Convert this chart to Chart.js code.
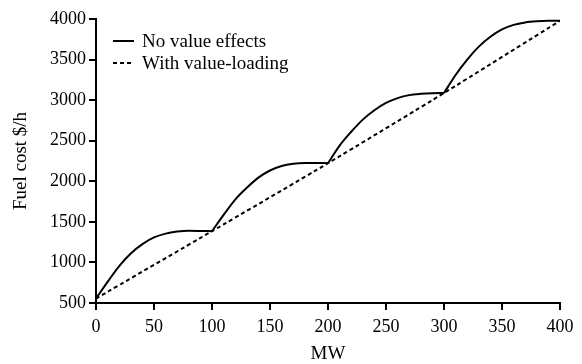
<!DOCTYPE html>
<html>
<head>
<meta charset="utf-8">
<script src="https://cdn.jsdelivr.net/npm/chart.js@4"></script>
<style>
  html, body { margin: 0; padding: 0; background: #fff; }
  #wrap { width: 582px; height: 364px; }
</style>
</head>
<body>
<div id="wrap"><canvas id="chart" width="582" height="364"></canvas></div>
<script>
// MW output, one row per valve segment
const mw = [
  [0, 10, 20, 30, 40, 50, 60, 70, 80, 90, 100],
  [100, 110, 120, 130, 140, 150, 160, 170, 180, 190, 200],
  [200, 210, 220, 230, 240, 250, 260, 270, 280, 290, 300],
  [300, 310, 320, 330, 340, 350, 360, 370, 380, 390, 400]
];

// fuel cost with valve-point effects ($/h)
const noValveCost = [
  [555, 760, 955, 1110, 1225, 1308, 1355, 1380, 1390, 1388, 1385],
  [1385, 1585, 1775, 1920, 2045, 2133, 2188, 2215, 2225, 2226, 2223],
  [2223, 2440, 2610, 2760, 2875, 2965, 3025, 3062, 3078, 3086, 3088],
  [3088, 3310, 3500, 3660, 3782, 3872, 3928, 3958, 3972, 3978, 3978]
];

// valve-point loading line (junction points)
const valveMw = [0, 100, 200, 300, 400];
const valveCost = [555, 1385, 2223, 3088, 3978];

const xTicks = [0, 50, 100, 150, 200, 250, 300, 350, 400];
const yTicks = [500, 1000, 1500, 2000, 2500, 3000, 3500, 4000];

const serif = '"Liberation Serif", "Times New Roman", serif';

// segments are joined with a gap point so each valve arc keeps its sharp cusp
function segmentPairs(xRows, yRows) {
  const out = [];
  xRows.forEach((xs, r) => {
    if (r > 0) out.push({ x: xs[0], y: null });
    xs.forEach((x, i) => out.push({ x: x, y: yRows[r][i] }));
  });
  return out;
}

function pairs(xs, ys) {
  return xs.map((x, i) => ({ x: x, y: ys[i] }));
}

// legend drawn inside the plot, top-left
const innerLegend = {
  id: 'innerLegend',
  afterDraw(chart) {
    const ctx = chart.ctx;
    const area = chart.chartArea;
    ctx.save();
    ctx.font = '19px ' + serif;
    ctx.fillStyle = '#000';
    ctx.textBaseline = 'middle';
    chart.data.datasets.forEach((ds, i) => {
      const y = area.top + 22 + i * 22;
      const x0 = area.left + 17;
      ctx.beginPath();
      ctx.strokeStyle = ds.borderColor;
      ctx.lineWidth = ds.borderWidth;
      ctx.setLineDash(ds.borderDash || []);
      ctx.moveTo(x0, y);
      ctx.lineTo(x0 + 21, y);
      ctx.stroke();
      ctx.setLineDash([]);
      ctx.fillText(ds.label, x0 + 29, y + 1);
    });
    ctx.restore();
  }
};

new Chart(document.getElementById('chart'), {
  type: 'line',
  data: {
    datasets: [{
      label: 'No value effects',
      data: segmentPairs(mw, noValveCost),
      borderColor: '#000',
      borderWidth: 2,
      pointRadius: 0,
      spanGaps: false,
      cubicInterpolationMode: 'monotone',
      fill: false
    }, {
      label: 'With value-loading',
      data: pairs(valveMw, valveCost),
      borderColor: '#000',
      borderWidth: 2,
      borderDash: [4, 3],
      pointRadius: 0,
      tension: 0.2,
      fill: false
    }]
  },
  options: {
    responsive: false,
    animation: false,
    layout: { padding: { left: 0, top: 19, right: 22, bottom: 0 } },
    plugins: { legend: { display: false }, tooltip: { enabled: false } },
    scales: {
      x: {
        type: 'linear',
        min: 0,
        max: 400,
        afterBuildTicks: scale => { scale.ticks = xTicks.map(v => ({ value: v })); },
        afterFit: scale => { scale.height = 61; },
        border: { display: true, color: '#000', width: 2 },
        grid: { drawOnChartArea: false, color: '#000', lineWidth: 2, tickLength: 7 },
        ticks: {
          color: '#000', padding: 6, maxRotation: 0,
          font: { family: serif, size: 18 },
          callback: v => String(v)
        },
        title: {
          display: true,
          text: 'MW',
          color: '#000',
          padding: { top: 0, bottom: 0 },
          font: { family: serif, size: 19, lineHeight: 1 }
        }
      },
      y: {
        min: 500,
        max: 4000,
        afterBuildTicks: scale => { scale.ticks = yTicks.map(v => ({ value: v })); },
        afterFit: scale => { scale.width = 96; },
        border: { display: true, color: '#000', width: 2 },
        grid: { drawOnChartArea: false, color: '#000', lineWidth: 2, tickLength: 7 },
        ticks: {
          color: '#000', padding: 3,
          font: { family: serif, size: 18 },
          callback: v => String(v)
        },
        title: {
          display: true,
          text: 'Fuel cost $/h',
          color: '#000',
          padding: { top: 12, bottom: 0 },
          font: { family: serif, size: 19, lineHeight: 1 }
        }
      }
    }
  },
  plugins: [innerLegend]
});
</script>
</body>
</html>
